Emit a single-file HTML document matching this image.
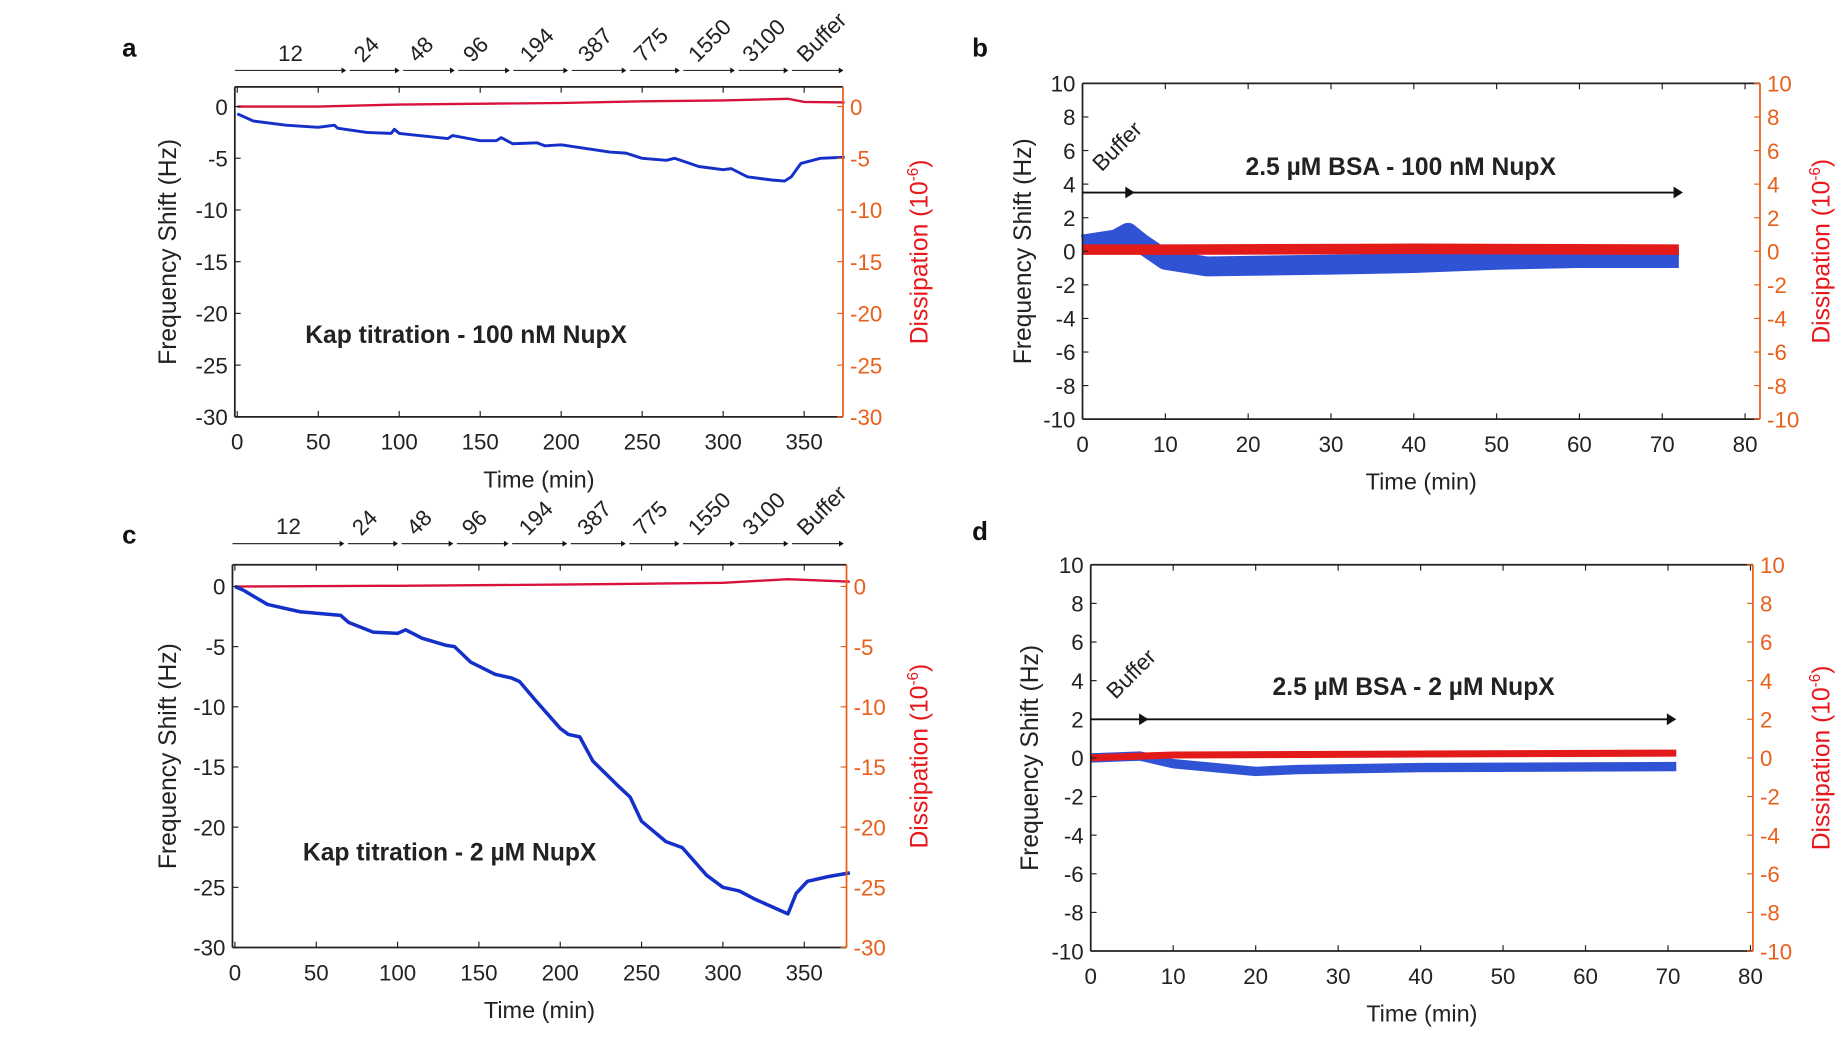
<!DOCTYPE html>
<html><head><meta charset="utf-8"><style>
html,body{margin:0;padding:0;background:#fff;width:1841px;height:1045px;overflow:hidden}
svg{display:block;font-family:"Liberation Sans",Arial,sans-serif}
</style></head><body>
<svg id="fig" width="1841" height="1045" viewBox="0 0 1568 890" xmlns="http://www.w3.org/2000/svg"></svg>
<script>
// ---- data ----
const aBlueT=[0,10,30,50,60,62,80,95,97,100,130,133,150,160,163,170,185,190,200,230,240,250,265,270,285,300,305,315,330,338,342,348,360,375];
const aBlueV=[-0.7,-1.4,-1.8,-2.0,-1.8,-2.1,-2.5,-2.6,-2.2,-2.6,-3.1,-2.8,-3.3,-3.3,-3.0,-3.6,-3.5,-3.8,-3.7,-4.4,-4.5,-5.0,-5.2,-5.0,-5.8,-6.1,-6.0,-6.8,-7.1,-7.2,-6.8,-5.5,-5.0,-4.9];
const aRedT=[0,50,100,200,250,300,340,350,375];
const aRedV=[0,0.0,0.2,0.35,0.5,0.6,0.75,0.45,0.4];
const cBlueT=[0,5,20,40,65,70,85,100,105,115,130,135,145,160,170,175,185,200,205,212,220,235,243,250,265,275,290,300,310,320,340,345,352,365,378];
const cBlueV=[0,-0.3,-1.5,-2.1,-2.4,-3.0,-3.8,-3.9,-3.6,-4.3,-4.9,-5.0,-6.3,-7.3,-7.6,-7.9,-9.5,-11.8,-12.3,-12.5,-14.5,-16.5,-17.5,-19.5,-21.2,-21.7,-24.0,-25.0,-25.3,-26.0,-27.2,-25.5,-24.5,-24.1,-23.8];
const cRedT=[0,100,200,300,340,378];
const cRedV=[0,0.05,0.15,0.3,0.6,0.4];
const bBlueT=[0,4,5.5,7,10,15,30,40,50,60,72];
const bBlueV=[0.4,0.7,1.1,0.5,-0.5,-0.9,-0.8,-0.7,-0.5,-0.4,-0.4];
const bRedT=[0,10,40,72];
const bRedV=[0.1,0.1,0.15,0.1];
const dBlueT=[0,6,10,15,20,25,40,71];
const dBlueV=[0,0.1,-0.3,-0.5,-0.7,-0.6,-0.5,-0.45];
const dRedT=[0,10,40,71];
const dRedV=[0,0.15,0.2,0.25];
const titrLabels=["12","24","48","96","194","387","775","1550","3100","Buffer"];
const titrBreaks=[0,68,101,135,169,205,241,274,308,341,375];
const kapTicksY=[0,-5,-10,-15,-20,-25,-30];
const kapTicksX=[0,50,100,150,200,250,300,350];
const bsaTicksY=[10,8,6,4,2,0,-2,-4,-6,-8,-10];
const bsaTicksX=[0,10,20,30,40,50,60,70,80];

const svg=document.getElementById('fig');
const NS='http://www.w3.org/2000/svg';
function mk(tag,attrs,parent){const e=document.createElementNS(NS,tag);for(const k in attrs)e.setAttribute(k,attrs[k]);(parent||svg).appendChild(e);return e;}
function txt(s,attrs,parent){const e=mk('text',attrs,parent);e.textContent=s;return e;}
const ORANGE='#e8601c';

function panel(o){
  const g=mk('g',{});
  
  
  const sx=t=>o.L+(t-o.x0)/(o.x1-o.x0)*(o.R-o.L);
  const sy=v=>o.B-(v-o.y0)/(o.y1-o.y0)*(o.B-o.T);
  // series
  function line(T,V,color,w,nm,op){
    let d='';T.forEach((t,i)=>{d+=(i?'L':'M')+sx(t).toFixed(1)+','+sy(V[i]).toFixed(1);});
    const p=mk('path',{d:d,fill:'none',stroke:color,'stroke-width':w,'stroke-linejoin':'round','stroke-linecap':'butt',opacity:op||1},g);
    
    
  }
  o.series.forEach(s=>line(s[0],s[1],s[2],s[3],s[4],s[5]));
  // axes
  mk('line',{x1:o.L,y1:o.T,x2:o.R,y2:o.T,stroke:'#222','stroke-width':1.5},g);
  mk('line',{x1:o.L,y1:o.B,x2:o.R,y2:o.B,stroke:'#222','stroke-width':1.5},g);
  mk('line',{x1:o.L,y1:o.T,x2:o.L,y2:o.B,stroke:'#222','stroke-width':1.5},g);
  mk('line',{x1:o.R,y1:o.T,x2:o.R,y2:o.B,stroke:ORANGE,'stroke-width':1.5},g);
  o.ticksX.forEach(t=>{const x=sx(t);
    mk('line',{x1:x,y1:o.B,x2:x,y2:o.B-5,stroke:'#222'},g);
    mk('line',{x1:x,y1:o.T,x2:x,y2:o.T+5,stroke:'#222'},g);
    const e=txt(String(t),{x:x,y:o.B+28,'font-size':19,'text-anchor':'middle',fill:'#222'},g);
    
    
  });
  o.ticksY.forEach(v=>{const y=sy(v);
    mk('line',{x1:o.L,y1:y,x2:o.L+5,y2:y,stroke:'#222'},g);
    mk('line',{x1:o.R,y1:y,x2:o.R-5,y2:y,stroke:ORANGE},g);
    const e=txt(String(v),{x:o.L-6,y:y+7,'font-size':19,'text-anchor':'end',fill:'#222'},g);
    
    
    const e2=txt(String(v),{x:o.R+6,y:y+7,'font-size':19,'text-anchor':'start',fill:ORANGE},g);
    
    
  });
  const xt=txt('Time (min)',{x:(o.L+o.R)/2,y:o.B+60,'font-size':20,'text-anchor':'middle',fill:'#222'},g);
  
  
  const cy=(o.T+o.B)/2;
  const yt=txt('Frequency Shift (Hz)',{x:0,y:0,'font-size':21,'text-anchor':'middle',fill:'#222',transform:`translate(${o.ylx},${cy}) rotate(-90)`},g);
  
  
  const rt=mk('text',{x:0,y:0,'font-size':21,'text-anchor':'middle',fill:'#e8171c',transform:`translate(${o.yrx},${cy}) rotate(-90)`},g);
  rt.innerHTML='Dissipation (10<tspan dy="-8" font-size="13">-6</tspan><tspan dy="8">)</tspan>';
  
  
  const lt=txt(o.letter,{x:o.letterX,y:o.letterY,'font-size':22,'font-weight':'bold',fill:'#111'},g);
  
  
  return {g,sx,sy};
}

function arrowHead(g,x,y,s){mk('path',{d:`M${x},${y} L${x-s*1.6},${y-s} L${x-s*1.6},${y+s} Z`,fill:'#111'},g);}

function kap(o,title){
  const p=panel(o);
  const e=txt(title,{x:o.titleX,y:o.titleY,'font-size':21,'font-weight':'bold',fill:'#222'},p.g);
  
  
  // titration arrows
  for(let i=0;i<titrLabels.length;i++){
    const x1=p.sx(titrBreaks[i])+(i?2:-2),x2=p.sx(titrBreaks[i+1])-1;
    const ay=o.arrowY;
    const l=mk('line',{x1:x1,y1:ay,x2:x2-3,y2:ay,stroke:'#333','stroke-width':1},p.g);
    
    
    arrowHead(p.g,x2,ay,2.5);
    const cx=(x1+x2)/2;
    let t;
    if(i===0) t=txt(titrLabels[i],{x:cx,y:ay-8,'font-size':19,'text-anchor':'middle',fill:'#222'},p.g);
    else t=txt(titrLabels[i],{x:0,y:0,'font-size':19,'text-anchor':'start',fill:'#222',transform:`translate(${cx-10},${ay-6}) rotate(-45)`},p.g);
    
    
  }
}

kap({name:'panel-a',letter:'a',letterX:104,letterY:48,L:200,R:718,T:74,B:355,x0:-1.5,x1:374,y0:-30,y1:1.9,
  ticksX:kapTicksX,ticksY:kapTicksY,ylx:150,yrx:790,titleX:260,titleY:292,arrowY:60,
  series:[[aRedT,aRedV,'#d8123c',2,'dissipation-line'],[aBlueT,aBlueV,'#1530c8',2.5,'frequency-line']]},
  'Kap titration - 100 nM NupX');
kap({name:'panel-c',letter:'c',letterX:104,letterY:463,L:198,R:721,T:481,B:807,x0:-1.5,x1:376,y0:-30,y1:1.8,
  ticksX:kapTicksX,ticksY:kapTicksY,ylx:150,yrx:790,titleX:258,titleY:733,arrowY:463,
  series:[[cRedT,cRedV,'#d8123c',2,'dissipation-line'],[cBlueT,cBlueV,'#1530c8',3,'frequency-line']]},
  'Kap titration - 2 µM NupX');

function bsa(o,title,ay,arrStart,arrEnd,bufT,bufV,tx,ty){
  const p=panel(o);
  const y=p.sy(ay);
  const l=mk('line',{x1:p.sx(0),y1:y,x2:p.sx(arrEnd)-6,y2:y,stroke:'#111','stroke-width':1.6},p.g);
  
  
  arrowHead(p.g,p.sx(arrStart),y,5);
  arrowHead(p.g,p.sx(arrEnd),y,5);
  const b=txt('Buffer',{x:0,y:0,'font-size':19,fill:'#222',transform:`translate(${p.sx(bufT)},${p.sy(bufV)}) rotate(-45)`},p.g);
  
  
  const e=txt(title,{x:tx,y:ty,'font-size':21,'font-weight':'bold','text-anchor':'middle',fill:'#222'},p.g);
  
  
}
bsa({name:'panel-b',letter:'b',letterX:828,letterY:48,L:922,R:1499,T:71,B:357,x0:0,x1:81.8,y0:-10,y1:10,
  ticksX:bsaTicksX,ticksY:bsaTicksY,ylx:878,yrx:1558,
  series:[[bBlueT,bBlueV,'#1a3fd0',17,'frequency-band',0.9],[bRedT,bRedV,'#e21a1a',9,'dissipation-band']]},
  '2.5 µM BSA - 100 nM NupX',3.5,6.3,72.5,2.3,4.7,1193,149);
bsa({name:'panel-d',letter:'d',letterX:828,letterY:460,L:929,R:1493,T:481,B:810,x0:0,x1:80.3,y0:-10,y1:10,
  ticksX:bsaTicksX,ticksY:bsaTicksY,ylx:884,yrx:1558,
  series:[[dBlueT,dBlueV,'#1a3fd0',8,'frequency-band',0.9],[dRedT,dRedV,'#e21a1a',6,'dissipation-band']]},
  '2.5 µM BSA - 2 µM NupX',2,7,71,3,3,1204,592);
</script>
</body></html>
